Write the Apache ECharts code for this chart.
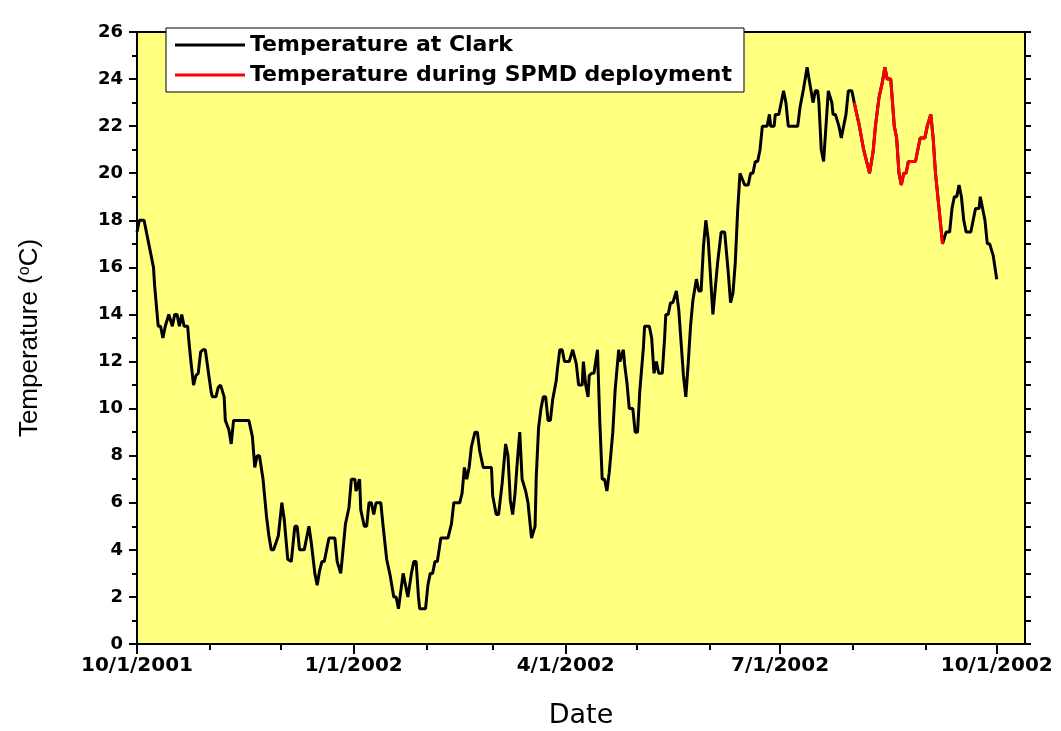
<!DOCTYPE html>
<html>
<head>
<meta charset="utf-8">
<script src="https://cdn.jsdelivr.net/npm/echarts@6/dist/echarts.min.js"></script>
<style>
  html, body { margin: 0; padding: 0; background: #fff; }
  #chart { width: 1061px; height: 731px; }
</style>
</head>
<body>
<div id="chart"></div>
<script>
  // days counted from 10/1/2001
  var days = [
    0, 1, 3, 5, 7, 7.5, 9, 10, 11, 12, 13.5, 14, 15, 16, 17, 18, 19, 20, 21.5, 22, 23, 24, 25, 26, 27, 28, 29, 30.5, 31.5, 32, 33.5, 34.5, 35.5, 37, 37.5, 39, 40, 41, 47.5, 49, 50, 51, 52, 53.5, 55, 56, 57, 58, 60,
    61.5, 62.5, 64, 65.5, 67, 68, 69, 71, 73, 74, 75.5, 76.5, 77.5, 78.5, 79.5, 81.5, 84, 85, 86.5, 87, 88.5, 90, 91, 92.5, 93, 94.5, 95, 96.5, 97.5, 98.5, 99.5, 100.5, 101.5, 103.5, 104.5, 106, 107.5, 109, 110, 111, 113, 113.5, 115, 116.5, 117.5, 118.5, 119.5, 120,
    122.5, 123.5, 124.5, 125.5, 126.5, 127.5, 129, 132, 133.5, 134.5, 137, 138, 139, 140, 141, 142, 143.5, 144.5, 145.5, 147, 150.5, 151, 152.5, 153.5, 155, 156.5, 157.5, 158.5, 159.5, 160.5, 161.5, 162.5, 163.5, 165, 166, 167, 167.5, 169, 169.5, 170.5, 171.5, 172.5, 173.5, 174.5, 175.5, 176.5, 178, 178.5, 179.5, 180.5, 181.5,
    183.5, 185, 185.5, 186.5, 187.5, 189, 189.5, 190.5, 191.5, 192, 193, 194, 195.5, 196.5, 197.5, 198.5, 199.5, 200.5, 202, 203, 204.5, 205, 206.5, 207, 208, 209, 210.5, 211.5, 212.5, 213.5, 215, 215.5, 217.5, 218.5, 219.5, 220.5, 221.5, 223, 224, 224.5, 225.5, 226.5, 227.5, 229, 230, 231, 232, 233, 234, 235, 236, 237.5, 238.5, 239.5, 240.5, 241.5, 242.5,
    244.5, 246.5, 248, 249.5, 251, 252, 253, 254, 255, 256, 256.5, 258, 259.5, 260.5, 261.5, 262.5, 263.5, 264.5, 265.5, 267.5, 268.5, 269, 270.5, 271, 272.5, 273.5, 274.5, 275.5, 276.5, 280.5, 281.5, 283, 284.5, 285, 285.5, 287, 288, 289, 289.5, 290.5, 291.5, 292.5, 293.5, 295, 295.5, 296.5, 298, 299, 300, 301, 302, 303.5, 304.5,
    306.5, 308.5, 311, 312.5, 313.5, 315, 316.5, 317.5, 318.5, 320, 321.5, 322.5, 323.5, 324.5, 325.5, 326.5, 327.5, 330.5, 331.5, 332.5, 334.5, 335.5, 337, 338, 339, 340.5, 342, 343.5, 345, 346, 347, 348, 349, 350, 351, 352, 354, 355, 356, 357.5, 358, 359, 360, 361, 362, 363.5, 365
  ];
  var temps = [
    17.5, 18, 18, 17, 16, 15.2, 13.5, 13.5, 13, 13.5, 14, 14, 13.5, 14, 14, 13.5, 14, 13.5, 13.5, 12.9, 11.9, 11, 11.4, 11.5, 12.4, 12.5, 12.5, 11.4, 10.7, 10.5, 10.5, 10.9, 11, 10.5, 9.5, 9.1, 8.5, 9.5, 9.5, 8.8, 7.5, 8, 8, 7, 5.4, 4.6, 4, 4, 4.6,
    6, 5.3, 3.6, 3.5, 5, 5, 4, 4, 5, 4.3, 3, 2.5, 3.1, 3.5, 3.5, 4.5, 4.5, 3.5, 3, 3.5, 5.1, 5.8, 7, 7, 6.5, 7, 5.7, 5, 5, 6, 6, 5.5, 6, 6, 5, 3.6, 2.9, 2, 2, 1.5, 3, 3, 2, 3, 3.5, 3.5, 2, 1.5,
    1.5, 2.5, 3, 3, 3.5, 3.5, 4.5, 4.5, 5.1, 6, 6, 6.4, 7.5, 7, 7.5, 8.4, 9, 9, 8.2, 7.5, 7.5, 6.3, 5.5, 5.5, 6.8, 8.5, 8, 6.1, 5.5, 6.4, 7.8, 9, 7, 6.5, 6, 5, 4.5, 5, 7.1, 9.2, 10, 10.5, 10.5, 9.5, 9.5, 10.4, 11.2, 11.7, 12.5, 12.5, 12,
    12, 12.5, 12.5, 11.9, 11, 11, 12, 11, 10.5, 11.4, 11.5, 11.5, 12.5, 9.4, 7, 7, 6.5, 7.3, 9, 10.8, 12.5, 12, 12.5, 11.9, 11.1, 10, 10, 9, 9, 10.8, 12.6, 13.5, 13.5, 13, 11.5, 12, 11.5, 11.5, 13, 14, 14, 14.5, 14.5, 15, 14.2, 12.8, 11.4, 10.5, 11.9, 13.5, 14.6, 15.5, 15, 15, 16.9, 18, 17.2,
    14, 16.2, 17.5, 17.5, 15.8, 14.5, 14.9, 16.2, 18.4, 20, 20, 19.5, 19.5, 20, 20, 20.5, 20.5, 21, 22, 22, 22.5, 22, 22, 22.5, 22.5, 23, 23.5, 23, 22, 22, 22.8, 23.6, 24.5, 24.5, 23.9, 23, 23.5, 23.5, 23, 21, 20.5, 22, 23.5, 23, 22.5, 22.5, 22, 21.5, 22, 22.5, 23.5, 23.5, 23,
    22.1, 21, 20, 20.9, 22, 23.2, 23.9, 24.5, 24, 24, 22, 21.5, 20, 19.5, 20, 20, 20.5, 20.5, 21, 21.5, 21.5, 22, 22.5, 21.5, 20, 18.5, 17, 17.5, 17.5, 18.5, 19, 19, 19.5, 19, 18, 17.5, 17.5, 18, 18.5, 18.5, 19, 18.5, 18, 17, 17, 16.5, 15.5
  ];
  // SPMD deployment window (days from 10/1/2001)
  var deployStart = 304.5;
  var deployEnd = 342;

  var tickDays = [0, 92, 182, 273, 365];
  var tickLabels = ['10/1/2001', '1/1/2002', '4/1/2002', '7/1/2002', '10/1/2002'];
  var monthDays = [31, 61, 123, 151, 212, 243, 304, 335];

  var pts = days.map(function (d, i) { return [d, temps[i]] })
  var spmd = pts.filter(function (p) { return p[0] >= deployStart && p[0] <= deployEnd })

  var lbl = { fontFamily: 'DejaVu Sans', fontWeight: 'bold', color: '#000' }
  var line = { color: '#000', width: 2 }

  var chart = echarts.init(document.getElementById('chart'))
  chart.setOption({
    animation: false,
    backgroundColor: '#fff',
    grid: {
      left: 137, right: 36, top: 32, bottom: 87,
      outerBoundsMode: 'none',
      show: true, backgroundColor: '#ffff80', borderColor: '#000', borderWidth: 2
    },
    legend: {
      left: 166, top: 28,
      orient: 'vertical',
      backgroundColor: '#fff', borderColor: '#000', borderWidth: 1,
      padding: [5, 12, 5, 9],
      itemWidth: 70, itemHeight: 3, itemGap: 6,
      icon: 'rect',
      textStyle: { fontFamily: 'DejaVu Sans', fontWeight: 'bold', fontSize: 22, color: '#000', lineHeight: 24 }
    },
    xAxis: [
      {
        type: 'value', min: 0, max: 377, position: 'bottom',
        axisLine: { show: true, onZero: false, lineStyle: line },
        axisTick: { show: true, customValues: tickDays, length: 10, lineStyle: line },
        axisLabel: Object.assign({
          customValues: tickDays, fontSize: 20, margin: 12,
          formatter: function (v) { return tickLabels[tickDays.indexOf(v)] }
        }, lbl),
        splitLine: { show: false },
        name: 'Date', nameLocation: 'middle', nameGap: 58,
        nameTextStyle: { fontFamily: 'DejaVu Sans', fontSize: 27, color: '#000' }
      },
      {
        // monthly minor ticks
        type: 'value', min: 0, max: 377, position: 'bottom',
        axisLine: { show: false, onZero: false },
        axisTick: { show: true, customValues: monthDays, length: 6, lineStyle: line },
        axisLabel: { show: false },
        splitLine: { show: false }
      },
      {
        type: 'value', min: 0, max: 377, position: 'top',
        axisLine: { show: true, onZero: false, lineStyle: line },
        axisTick: { show: false },
        axisLabel: { show: false },
        splitLine: { show: false }
      }
    ],
    yAxis: [
      {
        type: 'value', min: 0, max: 26, interval: 2, position: 'left',
        axisLine: { show: true, onZero: false, lineStyle: line },
        axisTick: { show: true, length: 8, lineStyle: line },
        minorTick: { show: true, splitNumber: 2, length: 5, lineStyle: line },
        axisLabel: Object.assign({ fontSize: 18, margin: 14 }, lbl),
        splitLine: { show: false },
        name: 'Temperature ({sup|o}C)', nameLocation: 'middle', nameGap: 94,
        nameTextStyle: {
          fontFamily: 'Liberation Sans', fontSize: 26, color: '#000',
          rich: { sup: { fontFamily: 'Liberation Sans', fontSize: 16, color: '#000', verticalAlign: 'top' } }
        }
      },
      {
        type: 'value', min: 0, max: 26, interval: 1, position: 'right',
        axisLine: { show: true, onZero: false, lineStyle: line },
        axisTick: { show: true, length: 6, lineStyle: line },
        axisLabel: { show: false },
        splitLine: { show: false }
      }
    ],
    series: [
      {
        name: 'Temperature at Clark', type: 'line', data: pts,
        symbol: 'none', z: 2,
        lineStyle: { color: '#000', width: 3 },
        itemStyle: { color: '#000' }
      },
      {
        name: 'Temperature during SPMD deployment', type: 'line', data: spmd,
        symbol: 'none', z: 3,
        lineStyle: { color: '#ff0000', width: 3 },
        itemStyle: { color: '#ff0000' }
      }
    ]
  })
</script>
</body>
</html>
